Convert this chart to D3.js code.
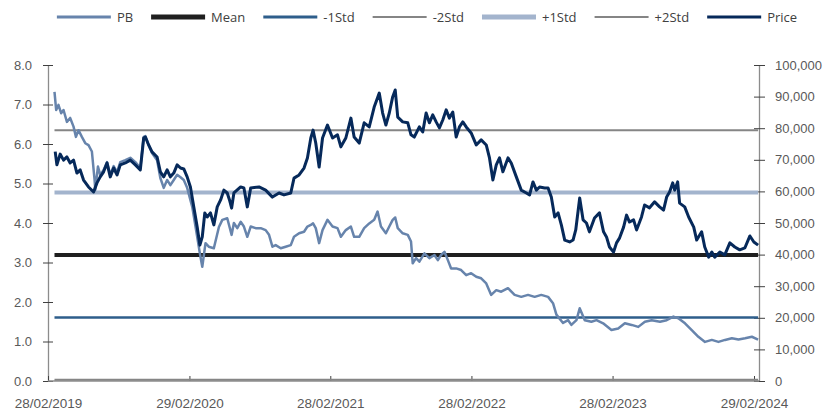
<!DOCTYPE html>
<html>
<head>
<meta charset="utf-8">
<script src="https://cdn.jsdelivr.net/npm/d3@7"></script>
<style>
  body { margin: 0; background: #fff; }
  svg { display: block; font-family: "Open Sans", sans-serif; }
</style>
</head>
<body>
<svg id="chart" width="838" height="414"></svg>
<script>
// time is given as decimal years
const pbSeries = [
  [2019.205,7.32],[2019.217,6.86],[2019.233,6.99],[2019.252,6.78],[2019.269,6.86],[2019.293,6.56],[2019.316,6.66],
  [2019.34,6.44],[2019.357,6.18],[2019.375,6.35],[2019.399,6.18],[2019.423,6.02],[2019.446,5.97],[2019.47,5.81],
  [2019.489,5.09],[2019.494,4.84],[2019.513,5.43],[2019.529,5.22],[2019.553,5.34],[2019.577,5.54],[2019.6,5.22],
  [2019.624,5.44],[2019.648,5.29],[2019.671,5.54],[2019.707,5.59],[2019.742,5.65],[2019.778,5.54],[2019.813,5.39],
  [2019.837,6.18],[2019.849,6.2],[2019.872,5.97],[2019.896,5.77],[2019.932,5.59],[2019.955,5.14],[2019.979,4.89],
  [2020.003,5.09],[2020.026,4.96],[2020.05,5.09],[2020.074,5.22],[2020.098,5.16],[2020.121,5.09],[2020.145,4.89],
  [2020.181,4.41],[2020.216,3.65],[2020.235,3.23],[2020.252,2.89],[2020.275,3.49],[2020.298,3.4],[2020.334,3.36],
  [2020.37,3.9],[2020.394,4.08],[2020.429,4.12],[2020.46,3.7],[2020.476,4.0],[2020.5,3.87],[2020.524,4.03],
  [2020.547,3.91],[2020.571,3.65],[2020.595,3.91],[2020.63,3.87],[2020.666,3.87],[2020.701,3.82],[2020.725,3.7],
  [2020.749,3.4],[2020.772,3.44],[2020.808,3.36],[2020.843,3.4],[2020.879,3.44],[2020.902,3.65],[2020.938,3.74],
  [2020.973,3.78],[2020.997,3.91],[2021.021,3.95],[2021.037,3.99],[2021.056,3.87],[2021.08,3.49],[2021.104,3.82],
  [2021.139,4.08],[2021.175,3.91],[2021.21,3.87],[2021.234,3.65],[2021.269,3.82],[2021.305,3.91],[2021.328,3.65],
  [2021.364,3.65],[2021.399,3.87],[2021.435,3.99],[2021.47,4.08],[2021.494,4.29],[2021.518,3.91],[2021.553,3.74],
  [2021.577,3.91],[2021.601,4.08],[2021.619,4.14],[2021.637,3.87],[2021.672,3.74],[2021.708,3.7],[2021.731,3.53],
  [2021.743,2.98],[2021.767,3.11],[2021.79,3.02],[2021.826,3.23],[2021.861,3.11],[2021.897,3.19],[2021.921,3.06],
  [2021.944,3.19],[2021.968,3.27],[2021.992,3.06],[2022.015,2.85],[2022.051,2.85],[2022.086,2.81],[2022.122,2.68],
  [2022.157,2.73],[2022.193,2.64],[2022.228,2.6],[2022.264,2.47],[2022.299,2.18],[2022.335,2.3],[2022.37,2.26],
  [2022.418,2.35],[2022.465,2.18],[2022.512,2.13],[2022.56,2.18],[2022.607,2.13],[2022.654,2.18],[2022.702,2.13],
  [2022.737,1.97],[2022.761,1.68],[2022.808,1.47],[2022.844,1.54],[2022.867,1.42],[2022.903,1.54],[2022.926,1.84],
  [2022.962,1.54],[2023.009,1.5],[2023.045,1.54],[2023.092,1.46],[2023.151,1.29],[2023.199,1.33],[2023.246,1.46],
  [2023.294,1.42],[2023.341,1.37],[2023.388,1.5],[2023.436,1.54],[2023.495,1.5],[2023.542,1.54],[2023.59,1.63],
  [2023.625,1.59],[2023.672,1.46],[2023.72,1.29],[2023.767,1.12],[2023.814,0.99],[2023.862,1.04],[2023.909,0.99],
  [2023.956,1.04],[2024.004,1.08],[2024.051,1.05],[2024.098,1.08],[2024.146,1.12],[2024.19,1.05]
];

const priceSeries = [
  [2019.21,72600],[2019.222,68400],[2019.245,71800],[2019.269,69900],[2019.293,70900],[2019.316,69000],[2019.34,69900],
  [2019.364,65800],[2019.387,66800],[2019.411,63600],[2019.446,61400],[2019.482,59800],[2019.506,62700],[2019.529,64600],
  [2019.553,66200],[2019.577,69000],[2019.6,64600],[2019.624,67400],[2019.648,65200],[2019.671,68400],[2019.707,69000],
  [2019.742,69900],[2019.778,68400],[2019.813,66800],[2019.837,76900],[2019.849,77200],[2019.872,74700],[2019.896,72500],
  [2019.932,70900],[2019.955,66200],[2019.979,64600],[2020.003,66800],[2020.026,64600],[2020.05,65800],[2020.074,68400],
  [2020.098,67400],[2020.121,67100],[2020.145,64600],[2020.168,61400],[2020.192,55100],[2020.216,48700],[2020.235,43000],
  [2020.252,45600],[2020.27,53200],[2020.287,51900],[2020.31,53200],[2020.334,49400],[2020.358,55100],[2020.382,57300],
  [2020.405,60400],[2020.429,59500],[2020.445,57300],[2020.46,54700],[2020.476,59500],[2020.524,61400],[2020.547,61100],
  [2020.571,55100],[2020.595,61100],[2020.654,61400],[2020.701,60400],[2020.749,58200],[2020.796,59500],[2020.831,58900],
  [2020.879,59500],[2020.902,64200],[2020.938,65200],[2020.973,67400],[2020.997,70600],[2021.021,76900],[2021.037,79400],
  [2021.056,75300],[2021.08,67700],[2021.104,76900],[2021.139,81000],[2021.175,76900],[2021.21,77900],[2021.234,74100],
  [2021.269,76900],[2021.305,83200],[2021.328,77200],[2021.364,75300],[2021.399,81700],[2021.435,80400],[2021.47,86700],
  [2021.506,91100],[2021.53,84800],[2021.553,81000],[2021.577,84800],[2021.601,89900],[2021.619,92100],[2021.637,83500],
  [2021.672,82000],[2021.708,81700],[2021.731,77900],[2021.754,77200],[2021.79,80400],[2021.814,78800],[2021.838,84800],
  [2021.861,81700],[2021.885,84200],[2021.909,82000],[2021.932,80100],[2021.956,82600],[2021.98,85800],[2022.003,83200],
  [2022.027,85100],[2022.051,77200],[2022.074,80400],[2022.098,82000],[2022.122,80400],[2022.157,78500],[2022.193,74700],
  [2022.228,76300],[2022.264,74700],[2022.287,70600],[2022.311,63600],[2022.335,68400],[2022.358,70600],[2022.382,66200],
  [2022.418,70600],[2022.441,69000],[2022.477,64600],[2022.512,60400],[2022.548,59500],[2022.571,58900],[2022.595,63000],
  [2022.619,60400],[2022.642,61400],[2022.678,61100],[2022.702,61100],[2022.725,58200],[2022.749,51900],[2022.773,53200],
  [2022.796,49400],[2022.82,44600],[2022.855,44000],[2022.879,44600],[2022.898,47800],[2022.926,57900],[2022.95,51000],
  [2022.974,50000],[2022.995,47200],[2023.031,51600],[2023.066,53200],[2023.095,47200],[2023.116,45600],[2023.137,42400],
  [2023.166,40800],[2023.187,43700],[2023.209,45300],[2023.237,48700],[2023.258,52500],[2023.279,50300],[2023.308,51000],
  [2023.329,47800],[2023.364,51900],[2023.386,55700],[2023.421,54800],[2023.457,56700],[2023.492,55100],[2023.52,54100],
  [2023.542,58200],[2023.563,59800],[2023.585,62700],[2023.599,60400],[2023.62,63000],[2023.634,56300],[2023.67,55100],
  [2023.698,51900],[2023.734,48700],[2023.755,44600],[2023.79,47200],[2023.812,42400],[2023.84,39200],[2023.862,40800],
  [2023.883,39200],[2023.919,40800],[2023.954,39900],[2023.99,43700],[2024.025,42400],[2024.06,41500],[2024.096,42100],
  [2024.132,45900],[2024.16,44000],[2024.19,43000]
];

const bandNames = ["Mean", "-1Std", "-2Std", "+1Std", "+2Std"];
const bandValues = [3.19, 1.61, 0.03, 4.77, 6.35];

const legendNames = ["PB", "Mean", "-1Std", "-2Std", "+1Std", "+2Std", "Price"];

const xTickYears = [2019.159, 2020.161, 2021.159, 2022.159, 2023.159, 2024.161];
const xTickLabels = ["28/02/2019", "29/02/2020", "28/02/2021", "28/02/2022", "28/02/2023", "29/02/2024"];
const leftTicks = [0, 1, 2, 3, 4, 5, 6, 7, 8];
const rightTicks = [0, 10000, 20000, 30000, 40000, 50000, 60000, 70000, 80000, 90000, 100000];

const styles = {
  "PB":    { color: "#6784ac", width: 2.5, legendWidth: 3 },
  "Mean":  { color: "#1f1f1f", width: 4,   legendWidth: 5 },
  "-1Std": { color: "#2e5e8b", width: 2.5, legendWidth: 3 },
  "-2Std": { color: "#858585", width: 2,   legendWidth: 2 },
  "+1Std": { color: "#a3b4cd", width: 4,   legendWidth: 5 },
  "+2Std": { color: "#858585", width: 2,   legendWidth: 2 },
  "Price": { color: "#06295a", width: 3,   legendWidth: 3 }
};

const svg = d3.select("#chart");
const plotLeft = 48, plotRight = 759, plotTop = 65, plotBottom = 381;

const x = d3.scaleLinear().domain([xTickYears[0], xTickYears[xTickYears.length - 1]]).range([48, 754]);
const yL = d3.scaleLinear().domain([0, 8]).range([plotBottom, plotTop]);
const yR = d3.scaleLinear().domain([0, 100000]).range([plotBottom, plotTop]);

const axisText = sel => sel.selectAll("text")
  .attr("font-size", 13).attr("fill", "#595959");

// left axis, cross ticks
const gL = svg.append("g").attr("transform", `translate(${plotLeft},0)`)
  .call(d3.axisLeft(yL).tickValues(leftTicks).tickFormat(d3.format(".1f"))
    .tickSize(5).tickSizeOuter(0).tickPadding(11));
gL.select(".domain").attr("stroke", "#8c8c8c").attr("stroke-width", 1.3);
gL.selectAll(".tick line").attr("x1", 5).attr("stroke", "#404040");
axisText(gL);

// right axis
const gR = svg.append("g").attr("transform", `translate(${plotRight},0)`)
  .call(d3.axisRight(yR).tickValues(rightTicks).tickFormat(d3.format(","))
    .tickSize(6).tickSizeOuter(0).tickPadding(10));
gR.select(".domain").attr("stroke", "#8c8c8c").attr("stroke-width", 1.3);
gR.selectAll(".tick line").attr("x1", -5).attr("stroke", "#404040");
axisText(gR);

// bottom axis
const gX = svg.append("g").attr("transform", `translate(0,${plotBottom})`)
  .call(d3.axisBottom(x).tickValues(xTickYears).tickFormat((d, i) => xTickLabels[i])
    .tickSize(0).tickPadding(17));
gX.select(".domain").remove();
gX.selectAll(".tick line").attr("y2", -5).attr("stroke", "#404040");
gX.append("line").attr("x1", plotLeft).attr("x2", plotRight).attr("stroke", "#8c8c8c").attr("stroke-width", 1.3);
axisText(gX);
gX.selectAll("text").attr("font-size", 13.5);

// horizontal bands across the data range
const x0 = Math.min(pbSeries[0][0], priceSeries[0][0]);
const x1 = Math.max(pbSeries[pbSeries.length - 1][0], priceSeries[priceSeries.length - 1][0]);
const lineL = d3.line().x(d => x(d[0])).y(d => yL(d[1]));
const lineR = d3.line().x(d => x(d[0])).y(d => yR(d[1]));

const plot = svg.append("g");
bandNames.forEach((name, i) => {
  plot.append("path")
    .datum([[x0, bandValues[i]], [x1, bandValues[i]]])
    .attr("d", lineL)
    .attr("fill", "none")
    .attr("stroke", styles[name].color)
    .attr("stroke-width", styles[name].width);
});

plot.append("path").datum(pbSeries).attr("d", lineL)
  .attr("fill", "none").attr("stroke", styles.PB.color)
  .attr("stroke-width", styles.PB.width).attr("stroke-linejoin", "round");

plot.append("path").datum(priceSeries).attr("d", lineR)
  .attr("fill", "none").attr("stroke", styles.Price.color)
  .attr("stroke-width", styles.Price.width).attr("stroke-linejoin", "round");

// legend, centred over the chart
const legend = svg.append("g").attr("transform", "translate(0,17)");
const sampleLen = 54, sampleGap = 6, itemGap = 18;
const items = legend.selectAll("g").data(legendNames).join("g");
items.append("line").attr("x1", 0).attr("x2", sampleLen)
  .attr("stroke", d => styles[d].color).attr("stroke-width", d => styles[d].legendWidth);
items.append("text").attr("x", sampleLen + sampleGap).attr("dy", "0.35em")
  .attr("font-size", 13).attr("fill", "#404040").text(d => d);
let pos = 0;
const offsets = [];
items.each(function () {
  const w = sampleLen + sampleGap + this.querySelector("text").getComputedTextLength();
  offsets.push(pos);
  pos += w + itemGap;
});
const total = pos - itemGap;
const startX = 427 - total / 2;
items.attr("transform", (d, i) => `translate(${startX + offsets[i]},0)`);
</script>
</body>
</html>
